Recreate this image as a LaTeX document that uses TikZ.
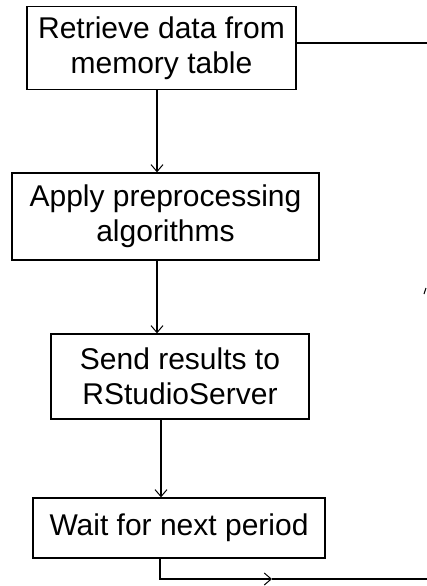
\documentclass[tikz,border=0pt]{standalone}
\usepackage{fontspec}
\setmainfont{Liberation Sans}
\usetikzlibrary{arrows.meta}
\begin{document}
\begin{tikzpicture}[x=1pt,y=-1pt,
  stepbox/.style={draw,line width=1.3pt,inner sep=0pt,align=center,
    font=\fontsize{30}{35}\selectfont},
  link/.style={line width=1.1pt},
  arr/.style={link,-{Straight Barb[length=7pt,width=12pt,line width=1pt]}}]
  \useasboundingbox (0,0) rectangle (427,586);
  % process boxes
  \node[stepbox,minimum width=269pt,minimum height=83pt] (retrieve) at (161.5,48)
    {Retrieve data from\\memory table};
  \node[stepbox,minimum width=307pt,minimum height=87pt] (apply) at (165.5,216.5)
    {Apply preprocessing\\algorithms};
  \node[stepbox,minimum width=258pt,minimum height=85pt] (send) at (180,376.5)
    {Send results to\\RStudioServer};
  \node[stepbox,minimum width=292pt,minimum height=60pt] (wait) at (179,528)
    {Wait for next period};
  % guide coordinates for the vertical connectors
  \coordinate (xa) at (157,0);
  \coordinate (xb) at (161,0);
  \coordinate (xc) at (160,0);
  \coordinate (rightedge) at (427,0);
  \coordinate (loopy) at (0,579);
  \coordinate (midtip) at (272,579);
  % flow
  \draw[arr] (retrieve.south -| xa) -- (apply.north -| xa);
  \draw[arr] (apply.south -| xa) -- (send.north -| xa);
  \draw[arr] (send.south -| xb) -- (wait.north -| xb);
  % loop lines leaving the frame
  \draw[link] (retrieve.east |- 0,43) -- (rightedge |- 0,43);
  \draw[arr] (wait.south -| xc) -- (loopy -| xc) -- (midtip);
  \draw[link] (midtip) -- (rightedge |- loopy);
  % stray mark at the right margin
  \draw[line width=1pt] (424,294) -- (426,288);
\end{tikzpicture}
\end{document}
